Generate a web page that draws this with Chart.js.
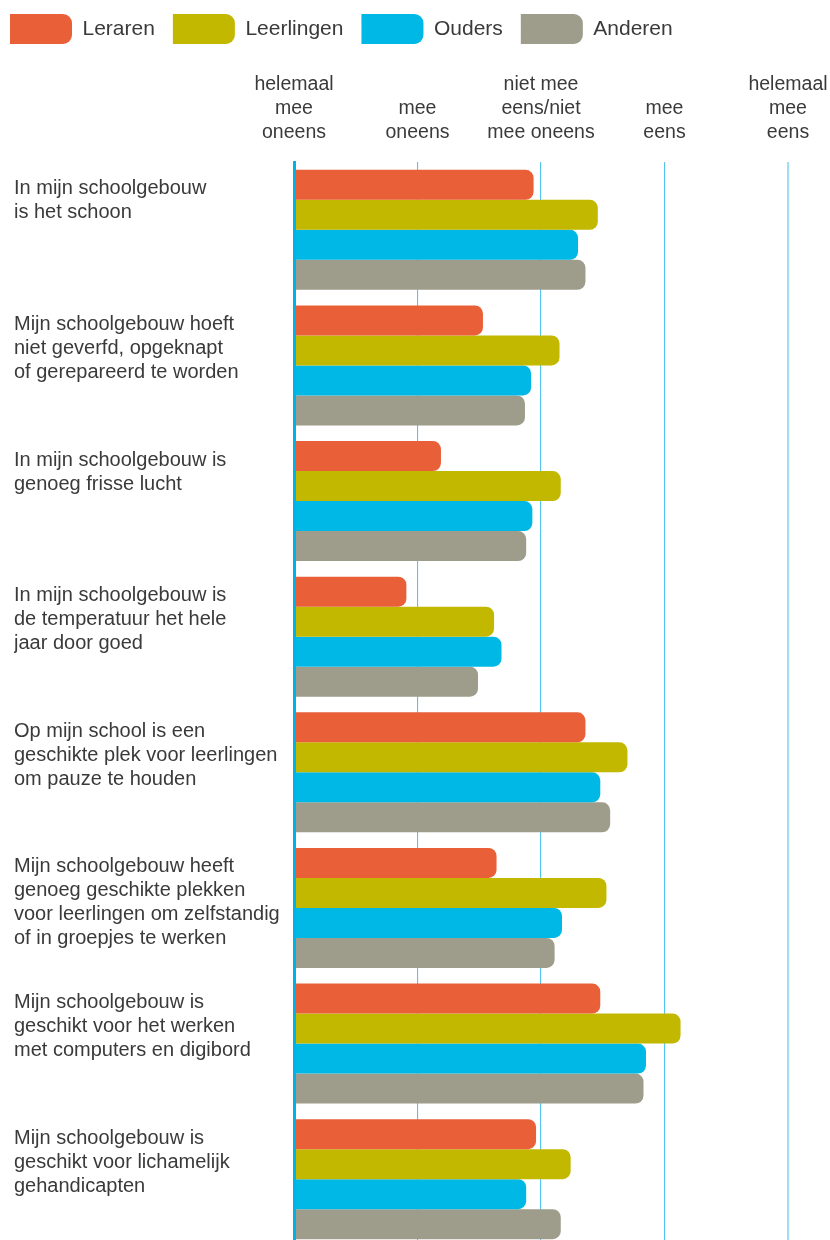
<!DOCTYPE html>
<html>
<head>
<meta charset="utf-8">
<script src="https://cdn.jsdelivr.net/npm/chart.js@4/dist/chart.umd.min.js"></script>
<style>
  html, body { margin: 0; padding: 0; background: #fff; overflow: hidden; width: 830px; height: 1240px; }
  canvas { display: block; }
</style>
</head>
<body>
<canvas id="c" width="830" height="1250" style="width:830px;height:1250px"></canvas>
<script>
// ---- data ----
const categories = [
  ["In mijn schoolgebouw", "is het schoon"],
  ["Mijn schoolgebouw hoeft", "niet geverfd, opgeknapt", "of gerepareerd te worden"],
  ["In mijn schoolgebouw is", "genoeg frisse lucht"],
  ["In mijn schoolgebouw is", "de temperatuur het hele", "jaar door goed"],
  ["Op mijn school is een", "geschikte plek voor leerlingen", "om pauze te houden"],
  ["Mijn schoolgebouw heeft", "genoeg geschikte plekken", "voor leerlingen om zelfstandig", "of in groepjes te werken"],
  ["Mijn schoolgebouw is", "geschikt voor het werken", "met computers en digibord"],
  ["Mijn schoolgebouw is", "geschikt voor lichamelijk", "gehandicapten"]
];
const seriesNames = ["Leraren", "Leerlingen", "Ouders", "Anderen"];
const leraren    = [2.94, 2.53, 2.19, 1.91, 3.36, 2.64, 3.48, 2.96];
const leerlingen = [3.46, 3.15, 3.16, 2.62, 3.70, 3.53, 4.13, 3.24];
const ouders     = [3.30, 2.92, 2.93, 2.68, 3.48, 3.17, 3.85, 2.88];
const anderen    = [3.36, 2.87, 2.88, 2.49, 3.56, 3.11, 3.83, 3.16];
const scaleValues = [1, 2, 3, 4, 5];
const scaleLabels = [
  ["helemaal", "mee", "oneens"],
  ["mee", "oneens"],
  ["niet mee", "eens/niet", "mee oneens"],
  ["mee", "eens"],
  ["helemaal", "mee", "eens"]
];
const colors = ["#e96038", "#c3b800", "#00b8e5", "#9e9c8a"];

// ---- chart ----
const FONT = "'Liberation Sans', Arial, sans-serif";
const TEXT = "#3a3a3a";
const padLines = (arr, n) => { const a = arr.slice(); while (a.length < n) a.push(""); return a; };
const yLabels = categories.map(l => padLines(l, 4));
const allSeries = [leraren, leerlingen, ouders, anderen];

const shiftPlugin = {
  id: 'shiftLegend',
  afterLayout(chart) {
    if (chart.legend) { chart.legend.left = -8; chart.legend.top = -4; }
  }
};

new Chart(document.getElementById('c'), {
  type: 'bar',
  data: {
    labels: yLabels,
    datasets: seriesNames.map((name, i) => ({
      label: name,
      data: allSeries[i],
      backgroundColor: colors[i],
      borderWidth: 0,
      borderRadius: 8,
      borderSkipped: 'start',
      barPercentage: 1.0,
      categoryPercentage: 0.885
    }))
  },
  options: {
    indexAxis: 'y',
    responsive: false,
    animation: false,
    devicePixelRatio: 1,
    layout: { padding: { left: 14, right: 42, top: 0, bottom: 3 } },
    plugins: {
      tooltip: { enabled: false },
      legend: {
        position: 'top',
        align: 'start',
        labels: {
          boxWidth: 62,
          boxHeight: 30,
          padding: 18,
          color: TEXT,
          useBorderRadius: true,
          borderRadius: { topLeft: 0, bottomLeft: 0, topRight: 9, bottomRight: 9 },
          font: { family: FONT, size: 21 }
        }
      }
    },
    scales: {
      x: {
        position: 'top',
        min: 1,
        max: 5,
        afterBuildTicks(scale) { scale.ticks = scaleValues.map(v => ({ value: v })); },
        afterFit(scale) { scale.height = 104; scale.paddingLeft = 0; scale.paddingRight = 0; },
        ticks: {
          color: TEXT,
          padding: 17,
          maxRotation: 0,
          autoSkip: false,
          font: { family: FONT, size: 19.5, lineHeight: 1.23 },
          callback(value) {
            const idx = scaleValues.indexOf(value);
            return idx >= 0 ? scaleLabels[idx] : '';
          }
        },
        grid: {
          drawTicks: false,
          color: (ctx) => (ctx.tick && ctx.tick.value === 5) ? '#a6dbf2' : '#55c4ee',
          lineWidth: (ctx) => (ctx.tick && ctx.tick.value === 5) ? 2.2 : 1.1
        },
        border: { display: false }
      },
      y: {
        afterFit(scale) { scale.width = 280; scale.paddingTop = 0; scale.paddingBottom = 0; },
        ticks: {
          color: TEXT,
          crossAlign: 'far',
          labelOffset: -5,
          autoSkip: false,
          font: { family: FONT, size: 20, lineHeight: 1.2 }
        },
        grid: { display: false, drawTicks: false },
        border: { display: true, color: '#00b2e8', width: 3, z: 1 }
      }
    }
  },
  plugins: [shiftPlugin]
});
</script>
</body>
</html>
